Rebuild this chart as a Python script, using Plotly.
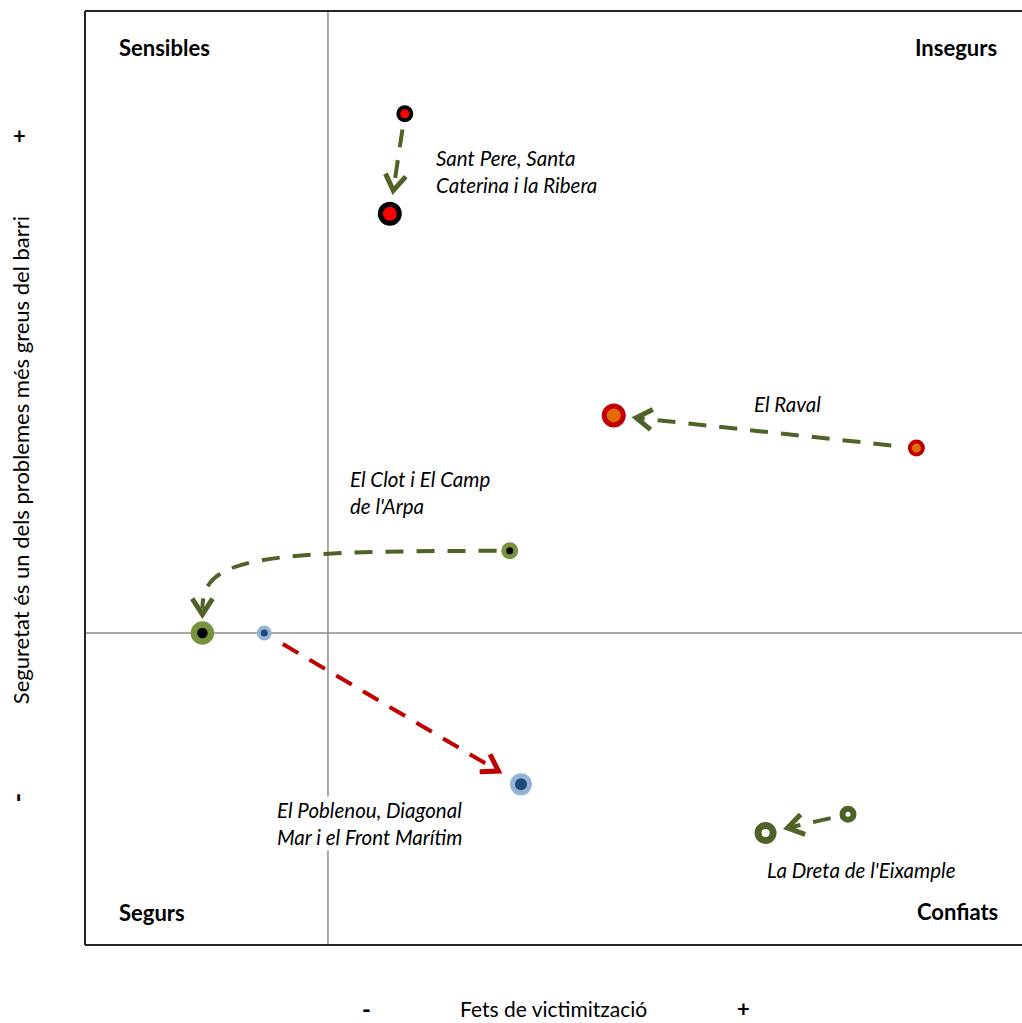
import math
import plotly.graph_objects as go

# ---------------- data ----------------
barris = ["Sant Pere, Santa\nCaterina i la Ribera", "El Raval", "El Clot i El Camp\nde l'Arpa",
          "El Poblenou, Diagonal\nMar i el Front Marítim", "La Dreta de l'Eixample"]
x_inici = [8.2, 62.8, 19.4, -6.8, 55.5]
y_inici = [55.6, 19.8, 8.8, 0.0, -19.4]
x_final = [6.6, 30.5, -13.4, 20.6, 46.7]
y_final = [44.9, 23.3, 0.0, -16.2, -21.4]
corner_labels = ["Sensibles", "Insegurs", "Segurs", "Confiats"]
y_axis_title = "Seguretat és un dels problemes més greus del barri"
x_axis_title = "Fets de victimització"

# ---------------- styles ----------------
fill_col = ["#FF0000", "#E36C09", "#000000", "#1F497D", "#FFFFFF"]
ring_col = ["#000000", "#C00000", "#77933C", "#95B3D7", "#4F6228"]
size_start = [13, 13, 12, 11, 11]
size_end = [19, 19, 17, 17, 15]
ring_start = [4, 4, 5, 4, 6]
ring_end = [5, 5, 6.5, 5, 7]
arrow_col = ["#4F6228", "#4F6228", "#4F6228", "#C00000", "#4F6228"]
curved = [False, False, True, False, False]
gap_start = [1.7, 2.7, 1.4, 2.3, 1.9]
gap_end = [2.5, 2.4, 2.0, 2.8, 2.4]
label_pos = [(11.3, 49.4, "left"), (49.0, 24.5, "center"), (2.1, 15.1, "left"),
             (-5.7, -20.4, "left"), (46.6, -25.4, "left")]
label_bg = [None, None, None, "white", None]

X_RANGE = [-25.93, 74.07]
Y_RANGE = [-33.4, 66.6]
FONT = "Lato"
LBL = 20.5

fig = go.Figure()

shapes = []
# cross lines
shapes.append(dict(type="line", xref="x", yref="paper", x0=0, x1=0, y0=0, y1=1,
                   line=dict(color="#8C8C8C", width=1.5), layer="below"))
shapes.append(dict(type="line", xref="paper", yref="y", x0=0, x1=1, y0=0, y1=0,
                   line=dict(color="#8C8C8C", width=1.5), layer="below"))
# frame (left, top, bottom)
for (x0, y0, x1, y1) in [(0, 0, 0, 1), (0, 1, 1, 1), (0, 0, 1, 0)]:
    shapes.append(dict(type="line", xref="paper", yref="paper", x0=x0, y0=y0, x1=x1, y1=y1,
                       line=dict(color="#262626", width=2)))

DASH = "18px,13px"
ARM = 2.0
ANG = math.radians(33)

def chevron(tip, d, col):
    pts = []
    for s in (1, -1):
        c, sn = math.cos(s * ANG), math.sin(s * ANG)
        rx = d[0] * c - d[1] * sn
        ry = d[0] * sn + d[1] * c
        pts.append((tip[0] - ARM * rx, tip[1] - ARM * ry))
    path = f"M {pts[0][0]},{pts[0][1]} L {tip[0]},{tip[1]} L {pts[1][0]},{pts[1][1]}"
    return dict(type="path", xref="x", yref="y", path=path,
                line=dict(color=col, width=5))

for i in range(len(barris)):
    x0, y0, x1, y1 = x_inici[i], y_inici[i], x_final[i], y_final[i]
    col = arrow_col[i]
    if not curved[i]:
        dx, dy = x1 - x0, y1 - y0
        L = math.hypot(dx, dy)
        d = (dx / L, dy / L)
        p0 = (x0 + d[0] * gap_start[i], y0 + d[1] * gap_start[i])
        tip = (x1 - d[0] * gap_end[i], y1 - d[1] * gap_end[i])
        shapes.append(dict(type="line", xref="x", yref="y", x0=p0[0], y0=p0[1],
                           x1=tip[0], y1=tip[1], line=dict(color=col, width=4, dash=DASH)))
        shapes.append(chevron(tip, d, col))
    else:
        d = (0.0, -1.0)
        p0 = (x0 - gap_start[i], y0)
        tip = (x1, y1 + gap_end[i])
        c1 = (tip[0] + 0.17 * (p0[0] - tip[0]), p0[1])
        c2 = (tip[0], tip[1] + 0.88 * (p0[1] - tip[1]))
        path = (f"M {p0[0]},{p0[1]} C {c1[0]},{c1[1]} {c2[0]},{c2[1]} "
                f"{tip[0]},{tip[1] + 0.6}")
        shapes.append(dict(type="path", xref="x", yref="y", path=path,
                           line=dict(color=col, width=4, dash=DASH)))
        shapes.append(chevron(tip, d, col))

# markers
for i in range(len(barris)):
    fig.add_trace(go.Scatter(
        x=[x_inici[i], x_final[i]], y=[y_inici[i], y_final[i]], mode="markers",
        marker=dict(size=[size_start[i], size_end[i]], color=fill_col[i], opacity=1,
                    line=dict(color=ring_col[i], width=[ring_start[i], ring_end[i]])),
        showlegend=False, hoverinfo="skip"))

annotations = []
for i, name in enumerate(barris):
    lx, ly, anchor = label_pos[i]
    txt = "<i>" + name.replace("\n", "<br>") + "</i>"
    a = dict(x=lx, y=ly, xref="x", yref="y", text=txt, showarrow=False,
             xanchor=anchor, yanchor="middle", align=anchor,
             font=dict(family=FONT, size=LBL, color="#000000"))
    if label_bg[i]:
        a["bgcolor"] = label_bg[i]
    annotations.append(a)

corner_pos = [(0.034, 0.961, "left"), (0.9755, 0.961, "right"),
              (0.034, 0.0353, "left"), (0.9765, 0.0364, "right")]
for lab, (px, py, anc) in zip(corner_labels, corner_pos):
    annotations.append(dict(x=px, y=py, xref="paper", yref="paper", text=f"<b>{lab}</b>",
                            showarrow=False, xanchor=anc, yanchor="middle",
                            font=dict(family=FONT, size=22, color="#000000")))

annotations += [
    dict(x=-0.0694, y=0.519, xref="paper", yref="paper", text=y_axis_title, textangle=-90,
         showarrow=False, xanchor="center", yanchor="middle",
         font=dict(family=FONT, size=22, color="#000000")),
    dict(x=-0.0694, y=0.867, xref="paper", yref="paper", text="<b>+</b>", showarrow=False,
         xanchor="center", yanchor="middle", font=dict(family=FONT, size=22, color="#000000")),
    dict(x=-0.0726, y=0.158, xref="paper", yref="paper", text="<b>-</b>", textangle=-90,
         showarrow=False, xanchor="center", yanchor="middle",
         font=dict(family=FONT, size=26, color="#000000")),
    dict(x=0.4995, y=-0.0685, xref="paper", yref="paper", text=x_axis_title, showarrow=False,
         xanchor="center", yanchor="middle", font=dict(family=FONT, size=21, color="#000000")),
    dict(x=0.30, y=-0.0685, xref="paper", yref="paper", text="<b>-</b>", showarrow=False,
         xanchor="center", yanchor="middle", font=dict(family=FONT, size=24, color="#000000")),
    dict(x=0.7033, y=-0.0685, xref="paper", yref="paper", text="<b>+</b>", showarrow=False,
         xanchor="center", yanchor="middle", font=dict(family=FONT, size=22, color="#000000")),
]

fig.update_layout(
    width=1022, height=1023,
    margin=dict(l=85, r=0, t=11, b=78),
    paper_bgcolor="white", plot_bgcolor="white",
    xaxis=dict(range=X_RANGE, showgrid=False, zeroline=False, showticklabels=False,
               showline=False, ticks="", fixedrange=True),
    yaxis=dict(range=Y_RANGE, showgrid=False, zeroline=False, showticklabels=False,
               showline=False, ticks="", fixedrange=True),
    shapes=shapes, annotations=annotations, showlegend=False,
)

# remove the page's default 8px body margin so the figure fills the window exactly
fig.write_html("out.html", config={"displayModeBar": False},
               post_script="document.body.style.margin='0';document.body.style.overflow='hidden';")
